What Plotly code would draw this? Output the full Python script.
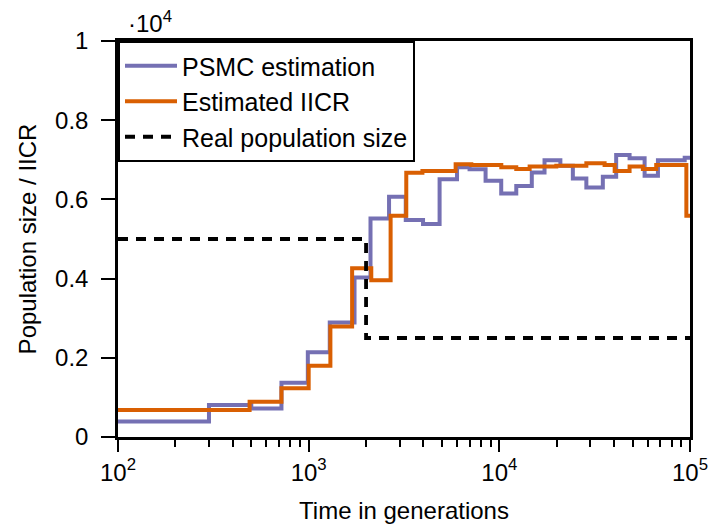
import plotly.graph_objects as go

# Interval boundaries (generations) and the population size in each interval (units of 1e4)
psmc_edges = [100, 300, 500, 720, 990, 1290, 1740, 2110, 2640, 3230, 3980, 4860,
              6000, 6980, 8470, 10230, 12270, 14800, 17260, 20900, 24300, 28600,
              34900, 41000, 48200, 57800, 67900, 93800, 100000]
psmc_size = [0.039, 0.081, 0.072, 0.137, 0.214, 0.289, 0.403, 0.552, 0.607, 0.548,
             0.538, 0.651, 0.681, 0.676, 0.647, 0.615, 0.634, 0.668, 0.699, 0.685,
             0.653, 0.630, 0.657, 0.712, 0.704, 0.660, 0.699, 0.705]

iicr_edges = [100, 490, 720, 1000, 1300, 1690, 2130, 2690, 3250, 3950, 5900, 7130,
              10240, 12270, 14420, 19900, 28600, 35650, 40270, 48200, 56600, 66500,
              95700, 100000]
iicr_size = [0.068, 0.089, 0.123, 0.180, 0.279, 0.426, 0.396, 0.559, 0.667, 0.672,
             0.689, 0.687, 0.681, 0.677, 0.683, 0.685, 0.691, 0.687, 0.672, 0.683,
             0.677, 0.687, 0.559]

real_edges = [100, 2000, 100000]
real_size = [0.5, 0.25]

x_tick_vals = [100, 1000, 10000, 100000]
x_tick_text = ["10<sup>2</sup>", "10<sup>3</sup>", "10<sup>4</sup>", "10<sup>5</sup>"]
y_tick_vals = [0, 0.2, 0.4, 0.6, 0.8, 1]
y_tick_text = ["0", "0.2", "0.4", "0.6", "0.8", "1"]

FONT = "Liberation Sans"
FS = 24


def steps(edges, sizes):
    # repeat the last level so the final interval reaches its right edge
    return list(edges), list(sizes) + [sizes[-1]]


fig = go.Figure()

x, y = steps(psmc_edges, psmc_size)
fig.add_trace(go.Scatter(x=x, y=y, mode="lines", line_shape="hv",
                         line=dict(color="#7570b3", width=4),
                         name="PSMC estimation"))

x, y = steps(iicr_edges, iicr_size)
fig.add_trace(go.Scatter(x=x, y=y, mode="lines", line_shape="hv",
                         line=dict(color="#d95f02", width=4),
                         name="Estimated IICR"))

x, y = steps(real_edges, real_size)
fig.add_trace(go.Scatter(x=x, y=y, mode="lines", line_shape="hv",
                         line=dict(color="black", width=3.8, dash="10px,8px"),
                         name="Real population size"))

minor_vals = [k * 10 ** n for n in range(2, 5) for k in range(2, 10)]

fig.update_xaxes(
    type="log", range=[2, 5], automargin=False,
    tickvals=x_tick_vals, ticktext=x_tick_text,
    ticks="outside", ticklen=12, tickwidth=2, tickcolor="black",
    minor=dict(tickvals=minor_vals, ticks="outside", ticklen=7, tickwidth=2,
               tickcolor="black", showgrid=False),
    showline=True, mirror=True, linecolor="black", linewidth=2.5,
    showgrid=False, zeroline=False,
    tickfont=dict(family=FONT, size=FS, color="black"),
    title=dict(text="Time in generations", font=dict(family=FONT, size=FS, color="black"),
               standoff=18),
)
fig.update_yaxes(
    range=[0, 1], automargin=False,
    tickvals=y_tick_vals, ticktext=y_tick_text,
    ticks="outside", ticklen=14, tickwidth=2, tickcolor="black",
    showline=True, mirror=True, linecolor="black", linewidth=2.5,
    showgrid=False, zeroline=False,
    tickfont=dict(family=FONT, size=FS, color="black"),
    ticklabelstandoff=8,
    title=dict(text="Population size / IICR", font=dict(family=FONT, size=FS, color="black"),
               standoff=12),
)

fig.add_annotation(text="·10<sup>4</sup>", xref="paper", yref="paper", x=0, y=1,
                   xanchor="left", yanchor="bottom", yshift=2, xshift=8, showarrow=False,
                   font=dict(family=FONT, size=FS, color="black"))

fig.update_layout(
    width=711, height=526,
    margin=dict(l=118, r=21, t=41, b=89),
    paper_bgcolor="white", plot_bgcolor="white",
    font=dict(family=FONT, size=FS, color="black"),
    showlegend=True,
    legend=dict(x=0, y=1, xanchor="left", yanchor="top",
                bgcolor="white", bordercolor="black", borderwidth=2,
                font=dict(family=FONT, size=25, color="black"),
                itemwidth=52, tracegroupgap=0),
)

fig.write_html("out.html")
